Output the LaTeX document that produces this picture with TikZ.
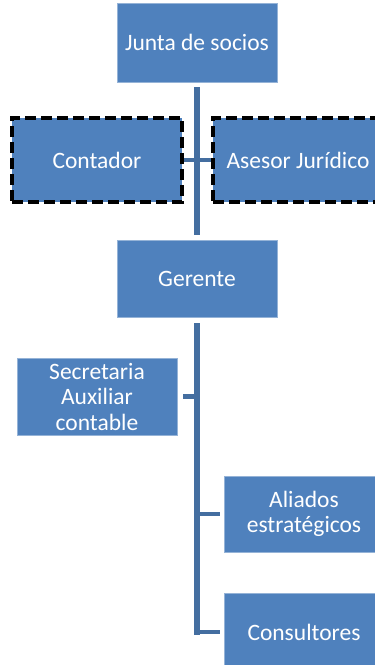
\documentclass[tikz,border=0pt]{standalone}
\usepackage{fontspec}
\setmainfont{Carlito}
\definecolor{boxblue}{RGB}{79,129,189}
\definecolor{lineblue}{RGB}{68,110,160}
\tikzset{
  orgbox/.style={rectangle, fill=boxblue, draw=boxblue!60!white, line width=0.6pt, text=white, font=\fontsize{23.5}{25.5}\selectfont, align=center, inner sep=0pt},
  dashbox/.style={orgbox, draw=black, line width=4.5pt, dash pattern=on 11pt off 5pt},
  trunk/.style={draw=lineblue, line width=6pt},
  branch/.style={draw=lineblue, line width=4.5pt}
}
\begin{document}
\begin{tikzpicture}[x=1pt,y=-1pt]
\useasboundingbox (0,0) rectangle (375,665);
\clip (0,0) rectangle (375,665);
\node[orgbox, minimum width=160pt, minimum height=79pt] (junta) at (197,42.5) {Junta de socios};
\node[orgbox, minimum width=160pt, minimum height=77pt] (ger) at (197,278.5) {Gerente};
\node[dashbox, minimum width=170pt, minimum height=84pt] (cont) at (97,160) {Contador};
\node[dashbox, minimum width=170pt, minimum height=84pt] (ases) at (298,160) {Asesor Jurídico};
\node[orgbox, minimum width=160pt, minimum height=77pt] (secr) at (97,396.5) {Secretaria\\Auxiliar\\contable};
\node[orgbox, minimum width=160pt, minimum height=76pt] (ali) at (304,514) {Aliados\\estratégicos};
\node[orgbox, minimum width=160pt, minimum height=78pt] (cons) at (304,632) {Consultores};
\coordinate (trunkend) at (197,635);
% upper connectors
\draw[trunk, shorten <=5pt, shorten >=5pt] (junta.south) -- (ger.north);
\draw[branch] (cont.east) -- (ases.west);
% lower connectors
\draw[trunk, shorten <=6pt] (ger.south) -- (trunkend);
\draw[branch, shorten <=6pt] (secr.east) -- (secr.east -| ger.south);
\draw[branch, shorten >=4pt] (ali.west -| ger.south) -- (ali.west);
\draw[branch, shorten >=4pt] (cons.west -| ger.south) -- (cons.west);
\end{tikzpicture}
\end{document}
